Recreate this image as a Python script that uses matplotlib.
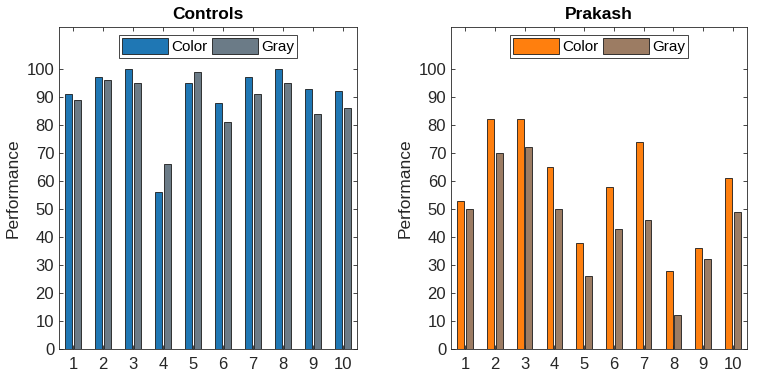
"""
Grouped bar charts: color vs gray performance for Controls and Prakash.
"""
import numpy as np
import matplotlib
matplotlib.use('Agg')
import matplotlib.pyplot as plt

plt.rcParams['font.family'] = ['Liberation Sans', 'DejaVu Sans']

# Data
items = [1, 2, 3, 4, 5, 6, 7, 8, 9, 10]
controls_color = [91, 97, 100, 56, 95, 88, 97, 100, 93, 92]
controls_gray = [89, 96, 95, 66, 99, 81, 91, 95, 84, 86]
prakash_color = [53, 82, 82, 65, 38, 58, 74, 28, 36, 61]
prakash_gray = [50, 70, 72, 50, 26, 43, 46, 12, 32, 49]

panels = [
    ("Controls", controls_color, controls_gray, '#1f77b4', '#6b7b87'),
    ("Prakash", prakash_color, prakash_gray, '#ff7f0e', '#9c7c63'),
]

fig = plt.figure(figsize=(7.65, 3.76), dpi=100)
axes_pos = [[59 / 765, 27 / 376, 298 / 765, 322 / 376],
            [451 / 765, 27 / 376, 296 / 765, 322 / 376]]

x = np.array(items)
width = 0.23
text_color = '#262626'

for pos, (title, color_vals, gray_vals, c1, c2) in zip(axes_pos, panels):
    ax = fig.add_axes(pos)
    ax.bar(x - 0.145, color_vals, width, color=c1, edgecolor='#1a1a1a',
           linewidth=0.6, label='Color')
    ax.bar(x + 0.145, gray_vals, width, color=c2, edgecolor='#1a1a1a',
           linewidth=0.6, label='Gray')

    ax.set_xlim(0.53, 10.47)
    ax.set_ylim(0, 115)
    ax.set_xticks(items)
    ax.set_yticks(range(0, 101, 10))
    ax.tick_params(direction='in', top=True, right=True, length=3,
                   labelsize=12, colors=text_color, width=0.6)
    ax.tick_params(axis='x', pad=6)
    for spine in ax.spines.values():
        spine.set_color('#262626')
        spine.set_linewidth(0.6)
    ax.set_ylabel('Performance', fontsize=12.5, color=text_color, labelpad=4)
    ax.set_title(title, fontsize=12.5, fontweight='bold', pad=6)

    leg = ax.legend(loc='upper center', ncol=2, fontsize=11,
                    bbox_to_anchor=(0.5, 0.975), handlelength=3.0,
                    handleheight=1.2, columnspacing=0.3, handletextpad=0.2,
                    borderpad=0.22, fancybox=False, framealpha=1,
                    borderaxespad=0.0)
    leg.get_frame().set_edgecolor('#262626')
    leg.get_frame().set_linewidth(0.6)

plt.savefig('out.png', dpi=100)
plt.close()
